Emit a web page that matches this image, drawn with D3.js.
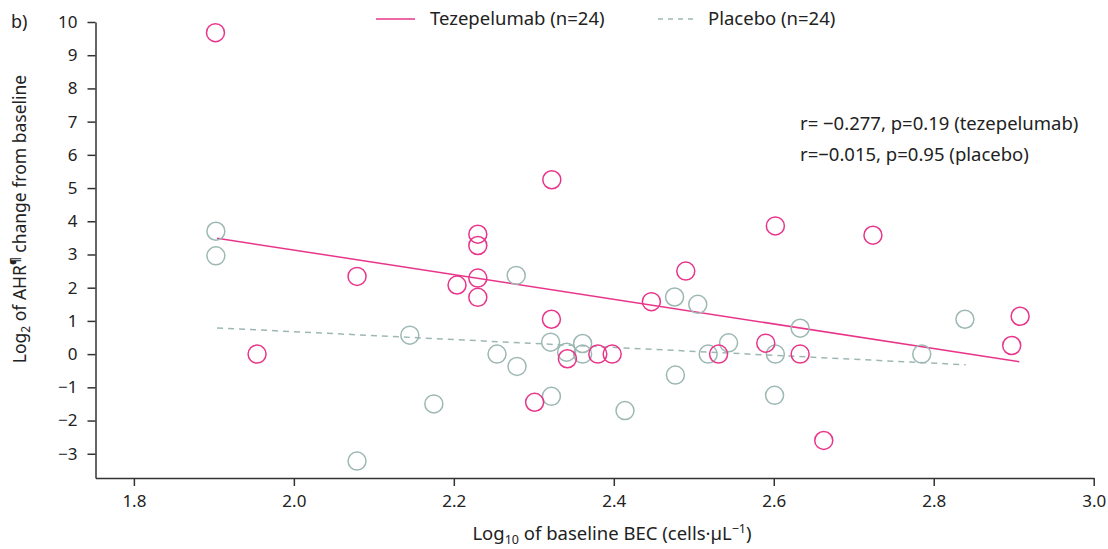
<!DOCTYPE html>
<html>
<head>
<meta charset="utf-8">
<script src="https://cdn.jsdelivr.net/npm/d3@7"></script>
<style>
  body { margin: 0; background: #fff; }
  svg text { font-family: "Noto Sans", Lato, sans-serif; fill: #222; }
  .axis path, .axis line { stroke: #333; stroke-width: 1.5; }
  .axis text { font-size: 17px; }
</style>
</head>
<body>
<svg id="chart" width="1108" height="549"></svg>
<script>
// log10 baseline BEC / log2 AHR change
const tezeX = [1.902, 1.954, 2.079, 2.204, 2.230, 2.230, 2.230, 2.230, 2.3225, 2.322, 2.301, 2.342,
               2.380, 2.398, 2.447, 2.490, 2.531, 2.590, 2.602, 2.633, 2.6625, 2.724, 2.8975, 2.908];
const tezeY = [9.68, 0, 2.34, 2.08, 3.61, 3.27, 2.29, 1.71, 5.25, 1.05, -1.45, -0.14,
               0, 0, 1.58, 2.50, 0, 0.33, 3.86, 0, -2.60, 3.58, 0.26, 1.14];
const placX = [1.9025, 1.9025, 2.079, 2.145, 2.175, 2.254, 2.278, 2.279, 2.321, 2.322, 2.341, 2.361,
               2.361, 2.414, 2.476, 2.477, 2.505, 2.518, 2.5435, 2.602, 2.601, 2.633, 2.785, 2.839];
const placY = [3.70, 2.96, -3.22, 0.57, -1.50, 0, 2.37, -0.37, 0.36, -1.27, 0.06, 0.32,
               0, -1.70, 1.72, -0.63, 1.50, 0, 0.34, 0, -1.24, 0.78, 0, 1.05];
// regression line end points
const tezeFit = [[1.904, 3.49], [2.907, -0.23]];
const placFit = [[1.904, 0.79], [2.840, -0.32]];
const xTicks = [1.8, 2.0, 2.2, 2.4, 2.6, 2.8, 3.0];
const yTicks = [-3, -2, -1, 0, 1, 2, 3, 4, 5, 6, 7, 8, 9, 10];

const pink = "#e8358a";
const grey = "#9db8b4";

var svg = d3.select("#chart");
var x = d3.scaleLinear().domain([1.752, 3.0]).range([95.5, 1093.7]);
var y = d3.scaleLinear().domain([-3.73, 10]).range([478, 22]);

//axes
svg.append("g")
    .attr("class", "axis")
    .attr("transform", "translate(0,478)")
    .call(d3.axisBottom(x).tickValues(xTicks).tickFormat(d3.format(".1f")).tickSize(8).tickPadding(9).tickSizeOuter(0))
    .selectAll("text").attr("dy", "0.71em");
svg.append("g")
    .attr("class", "axis")
    .attr("transform", "translate(95.5,0)")
    .call(d3.axisLeft(y).tickValues(yTicks).tickSize(8).tickPadding(10).tickSizeOuter(0));

//fit lines
var line = d3.line().x(function (d) { return x(d[0]); }).y(function (d) { return y(d[1]); });
svg.append("path").datum(tezeFit).attr("d", line)
    .attr("fill", "none").attr("stroke", pink).attr("stroke-width", 1.5);
svg.append("path").datum(placFit).attr("d", line)
    .attr("fill", "none").attr("stroke", grey).attr("stroke-width", 1.5).attr("stroke-dasharray", "6,5");

//points
svg.append("g").selectAll("circle")
    .data(placX.map(function (v, i) { return [v, placY[i]]; }))
    .enter().append("circle")
    .attr("cx", function (d) { return x(d[0]); })
    .attr("cy", function (d) { return y(d[1]); })
    .attr("r", 9)
    .attr("fill", "none").attr("stroke", grey).attr("stroke-width", 1.5);
svg.append("g").selectAll("circle")
    .data(tezeX.map(function (v, i) { return [v, tezeY[i]]; }))
    .enter().append("circle")
    .attr("cx", function (d) { return x(d[0]); })
    .attr("cy", function (d) { return y(d[1]); })
    .attr("r", 9)
    .attr("fill", "none").attr("stroke", pink).attr("stroke-width", 1.5);

//legend
svg.append("line").attr("x1", 376).attr("x2", 415).attr("y1", 19).attr("y2", 19)
    .attr("stroke", pink).attr("stroke-width", 1.5);
svg.append("text").attr("x", 430).attr("y", 25).style("font-size", "18.5px").text("Tezepelumab (n=24)");
svg.append("line").attr("x1", 658).attr("x2", 695).attr("y1", 19).attr("y2", 19)
    .attr("stroke", grey).attr("stroke-width", 1.5).attr("stroke-dasharray", "5,5");
svg.append("text").attr("x", 708).attr("y", 25).style("font-size", "18.5px").text("Placebo (n=24)");

//annotation
svg.append("text").attr("x", 800).attr("y", 130).style("font-size", "18.5px").text("r= \u22120.277, p=0.19 (tezepelumab)");
svg.append("text").attr("x", 800).attr("y", 161).style("font-size", "18.5px").text("r=\u22120.015, p=0.95 (placebo)");

svg.append("text").attr("x", 11).attr("y", 28).style("font-size", "18px").text("b)");

//axis titles
var yl = svg.append("text")
    .attr("transform", "translate(26,219)rotate(-90)")
    .attr("text-anchor", "middle")
    .style("font-size", "17.5px");
yl.append("tspan").text("Log");
yl.append("tspan").attr("dy", 4).style("font-size", "12px").text("2");
yl.append("tspan").attr("dy", -4).text(" of AHR");
yl.append("tspan").attr("dy", -6).style("font-size", "12px").style("font-weight", "bold").text("\u00b6");
yl.append("tspan").attr("dy", 6).text(" change from baseline");

var xl = svg.append("text")
    .attr("x", 612).attr("y", 540)
    .attr("text-anchor", "middle")
    .style("font-size", "18.5px");
xl.append("tspan").text("Log");
xl.append("tspan").attr("dy", 4).style("font-size", "12.5px").text("10");
xl.append("tspan").attr("dy", -4).text(" of baseline BEC (cells\u00b7\u00b5L");
xl.append("tspan").attr("dy", -7).style("font-size", "12.5px").text("\u22121");
xl.append("tspan").attr("dy", 7).text(")");
</script>
</body>
</html>
